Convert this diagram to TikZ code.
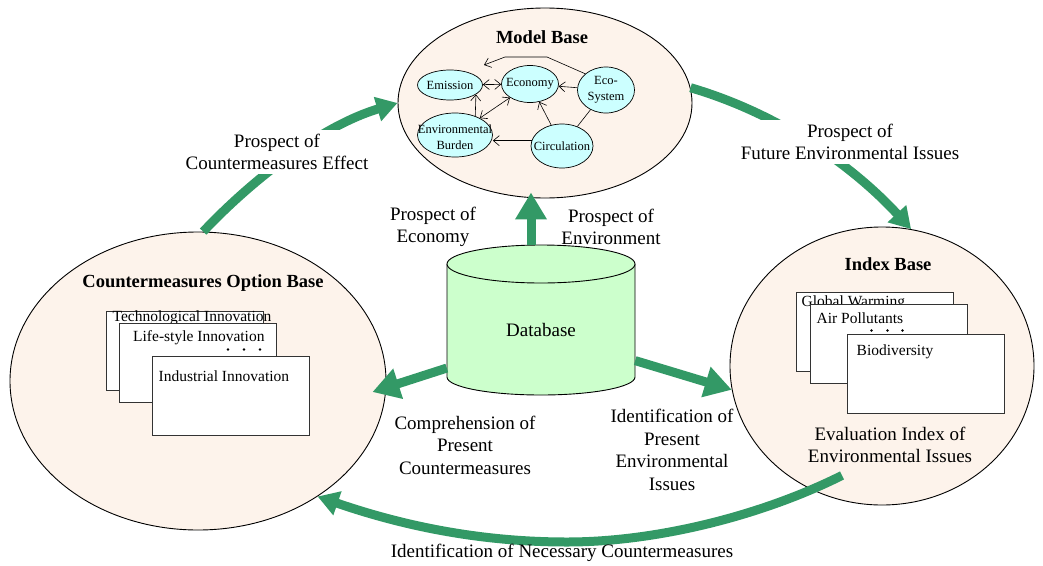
\documentclass[tikz,border=0pt]{standalone}
\usepackage{fontspec}
\setmainfont{Liberation Serif}
\usetikzlibrary{positioning}
\usetikzlibrary{shapes.geometric}
\usetikzlibrary{arrows.meta}
\usetikzlibrary{calc}

\definecolor{basepeach}{RGB}{253,243,235}
\definecolor{modelcyan}{RGB}{204,255,255}
\definecolor{dbgreen}{RGB}{204,255,204}
\definecolor{flowgreen}{RGB}{51,153,102}

\begin{document}
\begin{tikzpicture}[x = 1pt, y = -1pt,
		>={Straight Barb[length = 6pt, width = 10pt]},
		base/.style = {ellipse, draw = black, fill = basepeach, line width = 0.9pt, inner sep = 0},
		submodel/.style = {ellipse, draw = black, fill = modelcyan, line width = 0.7pt, inner sep = 0},
		subtext/.style = {font = \fontsize{12.5}{15.5}\selectfont, align = center, inner sep = 0},
		card/.style = {rectangle, draw = black!80, fill = white, line width = 1pt, minimum width = 157, minimum height = 79, inner sep = 0},
		cardtext/.style = {font = \fontsize{15.5}{18}\selectfont, anchor = west, inner sep = 0},
		title/.style = {font = \bfseries\fontsize{18.5}{22}\selectfont, inner sep = 0},
		flowtext/.style = {font = \fontsize{19}{22.5}\selectfont, align = center, inner sep = 0},
		flow/.style = {draw = flowgreen, line width = 9pt, -{Triangle[length = 27pt, width = 30pt]}},
		curveflow/.style = {draw = flowgreen, line width = 9pt, -{Triangle[length = 21pt, width = 24pt]}},
		link/.style = {draw = black, line width = 0.6pt}]

	\useasboundingbox (0, 0) rectangle (1043, 565);

	% the three bases
	\node[base, minimum width = 294, minimum height = 190] (mb) at (545, 103) {};
	\node[base, minimum width = 376, minimum height = 298] (cob) at (198, 381) {};
	\node[base, minimum width = 304, minimum height = 278] (ib) at (882, 366) {};

	\node[title] at (542, 37) {Model Base};
	\node[title] at (203, 283) {Countermeasures Option Base};
	\node[title] at (888, 264) {Index Base};

	% model base
	\node[submodel, minimum width = 65, minimum height = 30] (em) at (450, 85) {};
	\node[submodel, minimum width = 57, minimum height = 37] (ec) at (530, 84) {};
	\node[submodel, minimum width = 57, minimum height = 46] (eco) at (606, 90) {};
	\node[submodel, minimum width = 75, minimum height = 44] (eb) at (455, 135) {};
	\node[submodel, minimum width = 62, minimum height = 44] (circ) at (562, 146) {};
	\node[subtext] at (em) {Emission};
	\node[subtext] at (ec) {Economy};
	\node[subtext] at (eco) {Eco-\\System};
	\node[subtext] at ($(eb)+(0, 2)$) {Environmental\\Burden};
	\node[subtext] at (circ) {Circulation};

	\coordinate (bendA) at (547, 57);
	\coordinate (bendB) at (505, 57);
	\coordinate (emtop) at (484, 65);
	\draw[link, ->] (eco) -- (ec);
	\draw[link, <->] (em) -- (ec);
	\draw[link, <->] (eb) -- (ec);
	\draw[link, ->] (eb.43) -- (em.-20);
	\draw[link, ->] (circ.170) -- (circ.170 -| eb.east);
	\draw[link, ->] (circ) -- (ec);
	\draw[link] (circ) -- (eco);
	\draw[link, ->] (eco.142) -- (bendA) -- (bendB) -- (emtop);

	% option cards
	\node[card] (tech) at (184.5, 350.5) {};
	\node[cardtext] at ($(tech.north west)+(7, 7)$) {Technological Innovation};
	\node[card] (life) at (198, 362.5) {};
	\node[cardtext] at ($(life.north west)+(14, 15)$) {Life-style Innovation};
	\foreach \dx in {109, 125, 141}
		\fill ($(life.north west)+(\dx, 27)$) circle (1.3);
	\node[card] (ind) at (230.5, 395.5) {};
	\node[cardtext] at ($(ind.north west)+(7, 21)$) {Industrial Innovation};

	% index cards
	\node[card] (glob) at (874.5, 332) {};
	\node[cardtext] at ($(glob.north west)+(6, 11)$) {Global Warming};
	\node[card] (air) at (888.5, 343.5) {};
	\node[cardtext] at ($(air.north west)+(7, 15)$) {Air Pollutants};
	\foreach \dx in {62, 78, 93}
		\fill ($(air.north west)+(\dx, 27)$) circle (1.3);
	\node[card] (bio) at (925.5, 374) {};
	\node[cardtext] at ($(bio.north west)+(10, 18)$) {Biodiversity};
	\node[flowtext] at (890, 445) {Evaluation Index of\\Environmental Issues};

	% database
	\fill[dbgreen] (447, 264) -- (447, 377) arc[start angle = 180, end angle = 0, x radius = 94, y radius = 18] -- (635, 264) -- cycle;
	\draw[line width = 0.9pt] (447, 264) -- (447, 377) arc[start angle = 180, end angle = 0, x radius = 94, y radius = 18] -- (635, 264);
	\draw[line width = 0.9pt, fill = dbgreen] (541, 264) ellipse [x radius = 94, y radius = 19];
	\node[flowtext, minimum width = 188, minimum height = 170] (db) at (541, 330) {Database};

	% flows
	\draw[flow] ($(db.north)+(-10, 0)$) -- ($(mb.south)+(-14, -6)$);
	\draw[flow] (db.202) -- ($(cob.east)+(-14, 11)$);
	\draw[flow] (db.-18) -- (ib.189);
	\draw[curveflow] (cob.88) .. controls (248, 184) and (318, 127) .. (mb.west);
	\draw[curveflow] (mb.6) .. controls (780, 114) and (853, 166) .. (ib.78);
	\draw[curveflow] ($(ib.south)+(-40, -30)$) .. controls +(-80, 40) and +(90, 0) .. (567, 542) .. controls +(-100, 0) and +(70, 24) .. (cob.-44);

	\node[flowtext, fill = white, inner sep = 4] at (277, 152) {Prospect of\\Countermeasures Effect};
	\node[flowtext, fill = white, inner sep = 4] at (850, 142) {Prospect of\\Future Environmental Issues};
	\node[flowtext] at (433, 227) {Prospect of\\Economy};
	\node[flowtext] at (611, 227) {Prospect of\\Environment};
	\node[flowtext] at (465, 445) {Comprehension of\\Present\\Countermeasures};
	\node[flowtext] at (672, 450) {Identification of\\Present\\Environmental\\Issues};
	\node[flowtext] at (562, 553) {Identification of Necessary Countermeasures};
\end{tikzpicture}
\end{document}
